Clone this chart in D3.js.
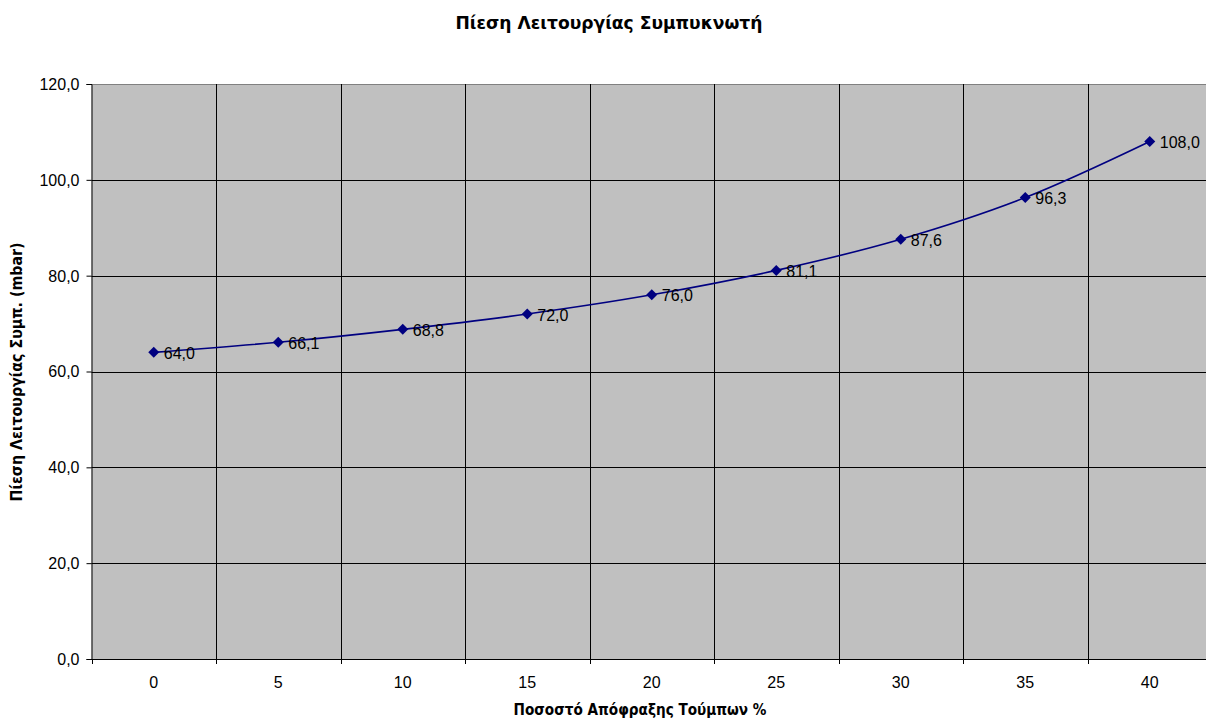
<!DOCTYPE html>
<html>
<head>
<meta charset="utf-8">
<script src="https://cdn.jsdelivr.net/npm/d3@7"></script>
<style>
  html, body { margin: 0; padding: 0; background: #fff; overflow: hidden; }
  svg { display: block; font-family: "Liberation Sans", Arial, sans-serif; }
</style>
</head>
<body>
<svg id="chart" width="1206" height="722"></svg>
<script>
// Blockage percentage of tubes (categories) and condenser operating pressure (mbar)
const categories = ["0", "5", "10", "15", "20", "25", "30", "35", "40"];
const pressure = [64.0, 66.1, 68.8, 72.0, 76.0, 81.1, 87.6, 96.3, 108.0];
const yTicks = [0, 20, 40, 60, 80, 100, 120];

const titleText = "Πίεση Λειτουργίας Συμπυκνωτή";
const xTitle = "Ποσοστό Απόφραξης Τούμπων %";
const yTitle = "Πίεση Λειτουργίας Συμπ. (mbar)";

const svg = d3.select("#chart");
const plotLeft = 91.5, plotTop = 84, plotBottom = 659;
const band = 124.5;
const plotRight = plotLeft + band * categories.length;
const boldFont = "'DejaVu Sans', Verdana, sans-serif";

const x = d3.scaleBand().domain(categories).range([plotLeft, plotRight]).paddingInner(0).paddingOuter(0);
const y = d3.scaleLinear().domain([0, 120]).range([plotBottom, plotTop]);
const fmt = d => d3.format(".1f")(d).replace(".", ",");

// plot background
svg.append("rect")
  .attr("x", plotLeft).attr("y", plotTop)
  .attr("width", plotRight - plotLeft).attr("height", plotBottom - plotTop)
  .attr("fill", "#c0c0c0");

// horizontal gridlines
svg.append("g").selectAll("line")
  .data(yTicks.filter(d => d > 0))
  .join("line")
  .attr("x1", plotLeft).attr("x2", plotRight)
  .attr("y1", d => Math.round(y(d)) + 0.5).attr("y2", d => Math.round(y(d)) + 0.5)
  .attr("stroke", d => d === 120 ? "#808080" : "#000")
  .attr("stroke-width", 1);

// vertical gridlines between categories
svg.append("g").selectAll("line")
  .data(categories.slice(1))
  .join("line")
  .attr("x1", d => Math.round(x(d)) + 0.5).attr("x2", d => Math.round(x(d)) + 0.5)
  .attr("y1", plotTop).attr("y2", plotBottom)
  .attr("stroke", "#000")
  .attr("stroke-width", 1);

// y axis
const yAxis = d3.axisLeft(y)
  .tickValues(yTicks)
  .tickSize(5)
  .tickPadding(7)
  .tickFormat(fmt);
const gy = svg.append("g").attr("transform", `translate(${plotLeft},0)`).call(yAxis);
gy.select(".domain").attr("stroke", "#000");
gy.selectAll(".tick line").attr("stroke", "#000");
gy.selectAll(".tick text").attr("font-size", 16).attr("fill", "#000")
  .attr("font-family", "'Liberation Sans', Arial, sans-serif")
  .attr("dy", "0.34em");

// x axis with ticks at category boundaries
const gx = svg.append("g").attr("transform", `translate(0,${plotBottom})`);
gx.append("line")
  .attr("x1", plotLeft).attr("x2", plotRight)
  .attr("y1", 0.5).attr("y2", 0.5)
  .attr("stroke", "#000");
gx.selectAll("line.tk")
  .data(categories.concat(["end"]))
  .join("line")
  .attr("class", "tk")
  .attr("x1", (d, i) => Math.round(plotLeft + i * band) + 0.5)
  .attr("x2", (d, i) => Math.round(plotLeft + i * band) + 0.5)
  .attr("y1", 0).attr("y2", 5)
  .attr("stroke", "#000");
gx.selectAll("text")
  .data(categories)
  .join("text")
  .attr("x", d => x(d) + x.bandwidth() / 2)
  .attr("y", 29)
  .attr("text-anchor", "middle")
  .attr("font-size", 16)
  .text(d => d);

// smoothed series line
const pts = categories.map((c, i) => [x(c) + x.bandwidth() / 2, y(pressure[i])]);
svg.append("path")
  .datum(pts)
  .attr("d", d3.line().curve(d3.curveCatmullRom.alpha(0)))
  .attr("fill", "none")
  .attr("stroke", "#000080")
  .attr("stroke-width", 1.6);

// diamond markers
svg.append("g").selectAll("path")
  .data(pts)
  .join("path")
  .attr("transform", d => `translate(${d[0]},${d[1]})`)
  .attr("d", "M0,-5.5L5.5,0L0,5.5L-5.5,0Z")
  .attr("fill", "#000080");

// value labels
svg.append("g").selectAll("text")
  .data(pressure)
  .join("text")
  .attr("x", (d, i) => pts[i][0] + 10)
  .attr("y", (d, i) => pts[i][1] + 6.5)
  .attr("font-size", 16)
  .attr("fill", "#000")
  .text(d => fmt(d));

// titles
svg.append("text")
  .attr("x", 609).attr("y", 29)
  .attr("text-anchor", "middle")
  .attr("font-family", boldFont)
  .attr("font-size", 17).attr("font-weight", "bold")
  .attr("textLength", 307).attr("lengthAdjust", "spacingAndGlyphs")
  .text(titleText);

svg.append("text")
  .attr("x", 640).attr("y", 715)
  .attr("text-anchor", "middle")
  .attr("font-family", boldFont)
  .attr("font-size", 16).attr("font-weight", "bold")
  .attr("textLength", 253).attr("lengthAdjust", "spacingAndGlyphs")
  .text(xTitle);

svg.append("text")
  .attr("transform", `translate(22,372) rotate(-90)`)
  .attr("text-anchor", "middle")
  .attr("font-family", boldFont)
  .attr("font-size", 16).attr("font-weight", "bold")
  .attr("textLength", 259).attr("lengthAdjust", "spacingAndGlyphs")
  .text(yTitle);
</script>
</body>
</html>
